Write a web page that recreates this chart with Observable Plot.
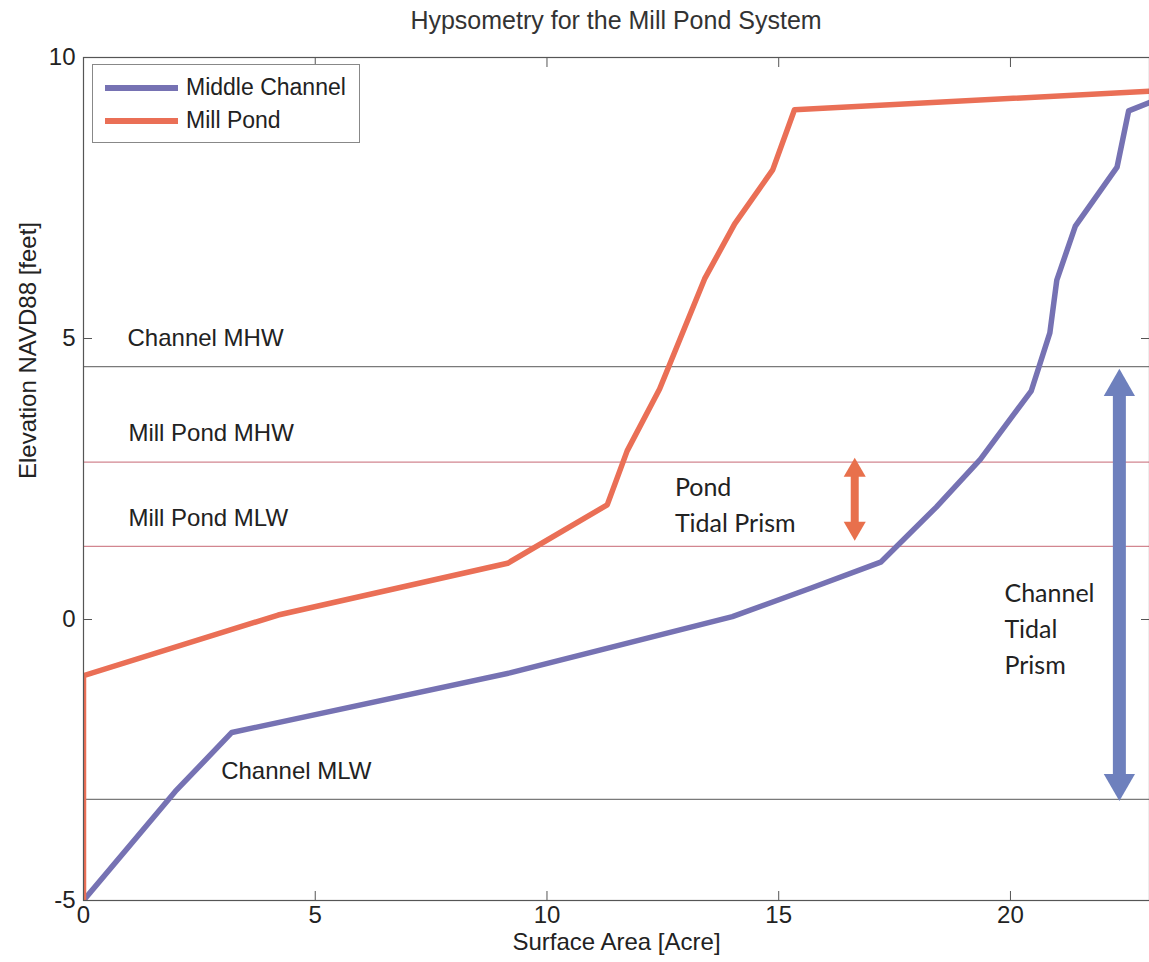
<!DOCTYPE html>
<html>
<head>
<meta charset="utf-8">
<script src="https://cdn.jsdelivr.net/npm/d3@7"></script>
<script src="https://cdn.jsdelivr.net/npm/@observablehq/plot@0.6"></script>
<style>
  body { margin: 0; background: #fff; font-family: "Liberation Sans", Arial, sans-serif; }
  #wrap { position: relative; width: 1149px; height: 962px; }
  #title { height: 40px; line-height: 40px; text-align: center; padding-left: 83px; font-size: 25px; color: #333; box-sizing: border-box; }
  #legend { position: absolute; left: 92px; top: 64px; width: 268px; height: 79px; border: 1px solid #888; background: #fff; box-sizing: border-box; padding-top: 6px; }
  .row { display: flex; align-items: center; height: 33px; padding-left: 12px; font-size: 23px; color: #222; }
  .sw { width: 73px; height: 6px; margin-right: 8px; }
</style>
</head>
<body>
<div id="wrap">
  <div id="title">Hypsometry for the Mill Pond System</div>
  <div id="chart"></div>
  <div id="legend"></div>
</div>
<script>
// ---- data ----
const seriesNames = ["Middle Channel", "Mill Pond"];
const seriesColors = ["#7672b3", "#ea6f56"];

const channelArea = [0, 1.98, 3.2, 9.2, 14.0, 15.7, 17.2, 18.4, 19.35, 20.45, 20.85, 21.0, 21.4, 22.3, 22.55, 23.0];
const channelElev = [-5, -3.06, -2.01, -0.95, 0.05, 0.56, 1.02, 2.0, 2.85, 4.07, 5.1, 6.04, 7.0, 8.05, 9.05, 9.2];

const pondArea = [0, 0, 4.2, 9.15, 11.3, 11.73, 12.43, 13.4, 14.05, 14.87, 15.34, 23.0];
const pondElev = [-5, -1.0, 0.08, 1.0, 2.04, 3.0, 4.1, 6.06, 7.04, 8.0, 9.07, 9.4];

const refNames = ["Channel MHW", "Mill Pond MHW", "Mill Pond MLW", "Channel MLW"];
const refElev = [4.5, 2.8, 1.3, -3.2];
const refKind = ["channel", "pond", "pond", "channel"];
const refLabelArea = [0.95, 0.97, 0.97, 2.97];
const refLabelElev = [5.0, 3.32, 1.8, -2.7];

const prismNames = ["Pond\nTidal Prism", "Channel\nTidal\nPrism"];
const prismArea = [16.64, 22.35];
const prismTop = [2.88, 4.46];
const prismBottom = [1.40, -3.23];
const prismLabelArea = [12.76, 19.87];
const prismLabelElev = [2.09, -0.12];
const prismColors = ["#e8704c", "#6e80bd"];

const xTicks = [0, 5, 10, 15, 20];
const yTicks = [-5, 0, 5, 10];

// ---- tables ----
const lineRows = [
  ...channelArea.map((a, i) => ({series: seriesNames[0], area: a, elev: channelElev[i]})),
  ...pondArea.map((a, i) => ({series: seriesNames[1], area: a, elev: pondElev[i]}))
];
const refRows = refNames.map((n, i) => ({name: n, elev: refElev[i], kind: refKind[i], lx: refLabelArea[i], ly: refLabelElev[i]}));
const prismRows = prismNames.map((n, i) => ({name: n, x: prismArea[i], top: prismTop[i], bottom: prismBottom[i], lx: prismLabelArea[i], ly: prismLabelElev[i], color: prismColors[i]}));

// arrow geometry (head radius per arrow)
const headR = [8.2, 11.6];
const arrowMarks = [];
prismRows.forEach((d, i) => {
  const r = headR[i];
  const h = Math.sqrt(Math.PI * r * r / (3 * Math.sqrt(3)));
  const shaftW = i === 0 ? 8 : 13;
  arrowMarks.push(
    Plot.ruleX([d], {x: "x", y1: "top", y2: "bottom", stroke: d.color, strokeWidth: shaftW, insetTop: 2 * h, insetBottom: 2 * h}),
    Plot.dot([d], {x: "x", y: "top", symbol: "triangle", r: r, fill: d.color, stroke: "none", dy: 2 * h}),
    Plot.dot([d], {x: "x", y: "bottom", symbol: "triangle", r: r, rotate: 180, fill: d.color, stroke: "none", dy: -2 * h})
  );
});

const fmt = d => String(d);

const chart = Plot.plot({
  width: 1149,
  height: 922,
  marginLeft: 83,
  marginRight: 0,
  marginTop: 17,
  marginBottom: 62,
  x: {domain: [0, 23]},
  y: {domain: [-5, 10]},
  color: {domain: seriesNames, range: seriesColors},
  style: {fontFamily: "'Liberation Sans', Arial, sans-serif", fontSize: "24px", color: "#222", background: "white", overflow: "visible"},
  marks: [
    Plot.ruleY(refRows, {y: "elev", stroke: d => d.kind === "pond" ? "#d28690" : "#7a7a7a", strokeWidth: 1.2}),
    Plot.text(refRows, {x: "lx", y: "ly", text: "name", textAnchor: "start", fontSize: 24, fill: "#222"}),
    Plot.line(lineRows, {x: "area", y: "elev", z: "series", stroke: "series", strokeWidth: 5.5, clip: true, strokeLinejoin: "round"}),
    ...arrowMarks,
    Plot.text(prismRows, {x: "lx", y: "ly", text: "name", textAnchor: "start", lineAnchor: "middle", lineHeight: 1.45, fontFamily: "Lato, 'Open Sans', sans-serif", fontSize: 25, fill: "#222"}),
    Plot.frame({stroke: "#555", strokeWidth: 1.2}),
    Plot.axisX(xTicks, {anchor: "bottom", tickSize: 9, dy: -9, text: null, label: null, stroke: "#555"}),
    Plot.axisX(xTicks, {anchor: "top", tickSize: 9, dy: 9, text: null, label: null, stroke: "#555"}),
    Plot.axisY(yTicks, {anchor: "left", tickSize: 9, dx: 9, text: null, label: null, stroke: "#555"}),
    Plot.axisY(yTicks, {anchor: "right", tickSize: 9, dx: -9, text: null, label: null, stroke: "#555"}),
    Plot.axisX(xTicks, {anchor: "bottom", tickSize: 0, tickPadding: 5, label: null, tickFormat: fmt, fontSize: 24, fill: "#222"}),
    Plot.axisY(yTicks, {anchor: "left", tickSize: 0, tickPadding: 8, label: null, tickFormat: fmt, fontSize: 24, fill: "#222"}),
    Plot.text(["Surface Area [Acre]"], {frameAnchor: "bottom", dy: 49, fontSize: 24, fill: "#222"}),
    Plot.text(["Elevation NAVD88 [feet]"], {frameAnchor: "left", rotate: -90, dx: -55, fontSize: 24, fill: "#222"})
  ]
});
document.getElementById("chart").appendChild(chart);

// legend (line swatches)
const legend = document.getElementById("legend");
seriesNames.forEach((n, i) => {
  const row = document.createElement("div");
  row.className = "row";
  const sw = document.createElement("div");
  sw.className = "sw";
  sw.style.background = seriesColors[i];
  const t = document.createElement("span");
  t.textContent = n;
  row.appendChild(sw);
  row.appendChild(t);
  legend.appendChild(row);
});
</script>
</body>
</html>
